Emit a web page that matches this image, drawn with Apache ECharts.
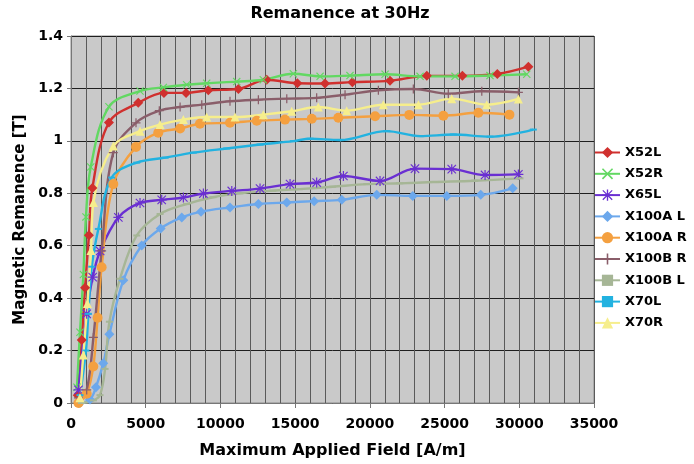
<!DOCTYPE html>
<html><head><meta charset="utf-8">
<script src="https://cdn.jsdelivr.net/npm/echarts@6/dist/echarts.min.js"></script>
<style>html,body{margin:0;padding:0;background:#fff}#c{width:694px;height:464px}</style>
</head><body><div id="c"></div>
<script>
// Tick labels
const xTicks = [0, 5000, 10000, 15000, 20000, 25000, 30000, 35000];
const yTicks = [0, 0.2, 0.4, 0.6, 0.8, 1, 1.2, 1.4];
const seriesNames = ['X52L', 'X52R', 'X65L', 'X100A L', 'X100A R', 'X100B R', 'X100B L', 'X70L', 'X70R'];

// Applied field [A/m] and remanence [T] for each sample
const x52L_H = [450, 720, 940, 1200, 1430, 2540, 4500, 6220, 7700, 9190, 11200, 13100, 15150, 17000, 18830, 21350, 23810, 26190, 28530, 30610];
const x52L_B = [0.03, 0.24, 0.44, 0.64, 0.82, 1.07, 1.145, 1.183, 1.183, 1.193, 1.198, 1.233, 1.22, 1.219, 1.224, 1.229, 1.248, 1.248, 1.255, 1.283];

const x52R_H = [400, 600, 830, 1000, 1320, 2540, 4620, 6180, 7740, 9080, 11090, 12870, 14880, 16670, 18670, 21020, 23360, 25700, 28040, 30500];
const x52R_B = [0.06, 0.27, 0.49, 0.71, 0.90, 1.13, 1.19, 1.204, 1.214, 1.22, 1.226, 1.233, 1.256, 1.246, 1.249, 1.254, 1.246, 1.246, 1.249, 1.254];

const x65L_H = [500, 1050, 1450, 1950, 3170, 4620, 6070, 7520, 8860, 10760, 12650, 14660, 16440, 18230, 20680, 23020, 25480, 27710, 29940];
const x65L_B = [0.05, 0.34, 0.48, 0.58, 0.708, 0.763, 0.775, 0.784, 0.799, 0.809, 0.818, 0.835, 0.841, 0.866, 0.847, 0.894, 0.892, 0.870, 0.872];

const x100AL_H = [600, 1270, 1670, 2160, 2570, 3500, 4730, 6000, 7410, 8700, 10640, 12540, 14440, 16270, 18120, 20460, 22870, 25150, 27420, 29560];
const x100AL_B = [0.0, 0.013, 0.06, 0.152, 0.262, 0.468, 0.601, 0.666, 0.708, 0.73, 0.746, 0.759, 0.765, 0.77, 0.775, 0.794, 0.79, 0.79, 0.794, 0.819];

const x100AR_H = [500, 1050, 1490, 1780, 2050, 2830, 4350, 5840, 7300, 8630, 10640, 12430, 14320, 16110, 17890, 20350, 22640, 24920, 27260, 29340];
const x100AR_B = [0.0, 0.035, 0.139, 0.325, 0.518, 0.835, 0.977, 1.031, 1.047, 1.065, 1.069, 1.077, 1.081, 1.084, 1.088, 1.094, 1.099, 1.096, 1.107, 1.10];

const x100BR_H = [500, 1050, 1500, 2050, 2830, 4350, 5910, 7300, 8750, 10640, 12540, 14440, 16440, 18340, 20570, 22910, 25250, 27490, 29940];
const x100BR_B = [0.02, 0.05, 0.25, 0.58, 0.955, 1.069, 1.115, 1.129, 1.138, 1.151, 1.157, 1.161, 1.164, 1.176, 1.193, 1.198, 1.18, 1.189, 1.185];

const x100BL_H = [700, 1500, 1940, 2280, 2570, 3280, 4400, 5960, 7740, 9500, 11300, 13500, 15300, 17500, 19800, 22000, 24250, 27000, 30050];
const x100BL_B = [0.0, 0.01, 0.03, 0.13, 0.31, 0.474, 0.639, 0.721, 0.759, 0.785, 0.80, 0.81, 0.816, 0.825, 0.835, 0.838, 0.843, 0.848, 0.857];

const x70L_H = [600, 1000, 1160, 1390, 1830, 2720, 4400, 6300, 8180, 10420, 12650, 14880, 16000, 18000, 21130, 23360, 25590, 28040, 30940];
const x70L_B = [0.03, 0.2, 0.34, 0.52, 0.664, 0.86, 0.917, 0.936, 0.955, 0.971, 0.986, 0.999, 1.008, 1.003, 1.037, 1.018, 1.024, 1.016, 1.043];

const x70R_H = [600, 820, 1100, 1340, 1500, 2830, 4620, 5960, 7520, 9080, 10980, 12870, 14770, 16550, 18450, 20900, 23250, 25480, 27820, 29940];
const x70R_B = [0.02, 0.183, 0.38, 0.582, 0.765, 0.98, 1.037, 1.062, 1.081, 1.091, 1.091, 1.10, 1.113, 1.129, 1.115, 1.138, 1.138, 1.161, 1.138, 1.16];

const FONT = 'DejaVu Sans';
const pair = (h, b) => h.map((v, i) => [v, b[i]]);

const crossPath = 'path://M1,0L5,4L9,0L10,1L6,5L10,9L9,10L5,6L1,10L0,9L4,5L0,1Z';
const plusPath = 'path://M4.3,0H5.7V4.3H10V5.7H5.7V10H4.3V5.7H0V4.3H4.3Z';
const starPath = 'path://M4.4,0H5.6V10H4.4Z M0,4.4H10V5.6H0Z M1.2,0.4L5,4.2L8.8,0.4L9.6,1.2L5.8,5L9.6,8.8L8.8,9.6L5,5.8L1.2,9.6L0.4,8.8L4.2,5L0.4,1.2Z';

const defs = [
  {name: seriesNames[0], h: x52L_H, b: x52L_B, color: '#d0302e', symbol: 'diamond', size: 10},
  {name: seriesNames[1], h: x52R_H, b: x52R_B, color: '#62d862', symbol: crossPath, size: 8},
  {name: seriesNames[2], h: x65L_H, b: x65L_B, color: '#6a2fd2', symbol: starPath, size: 10},
  {name: seriesNames[3], h: x100AL_H, b: x100AL_B, color: '#6ca8ec', symbol: 'diamond', size: 10},
  {name: seriesNames[4], h: x100AR_H, b: x100AR_B, color: '#f4a040', symbol: 'circle', size: 10},
  {name: seriesNames[5], h: x100BR_H, b: x100BR_B, color: '#8a5e6a', symbol: plusPath, size: 9},
  {name: seriesNames[6], h: x100BL_H, b: x100BL_B, color: '#a6b696', symbol: 'rect', size: [7, 2]},
  {name: seriesNames[7], h: x70L_H, b: x70L_B, color: '#22b2e0', symbol: 'rect', size: [7, 2]},
  {name: seriesNames[8], h: x70R_H, b: x70R_B, color: '#f6ee8c', symbol: 'triangle', size: 9}
];

const chart = echarts.init(document.getElementById('c'), null, {renderer: 'canvas'});
chart.setOption({
  animation: false,
  backgroundColor: '#ffffff',
  title: {
    text: 'Remanence at 30Hz',
    left: 340, top: 6, textAlign: 'center', padding: 0,
    textStyle: {fontFamily: FONT, fontWeight: 'bold', fontSize: 16, color: '#000'}
  },
  legend: {
    orient: 'vertical', left: 594, top: 146, padding: 0,
    itemWidth: 25, itemHeight: 14, itemGap: 8.3,
    textStyle: {fontFamily: FONT, fontWeight: 'bold', fontSize: 13, color: '#000'},
    data: seriesNames
  },
  grid: {
    left: 71, right: 100, top: 36, bottom: 59,
    show: true, backgroundColor: '#c9c9c9', borderColor: '#8a8a8a', borderWidth: 1
  },
  xAxis: {
    type: 'value', min: xTicks[0], max: xTicks[xTicks.length - 1], interval: 5000,
    name: 'Maximum Applied Field [A/m]', nameLocation: 'middle', nameGap: 40,
    nameTextStyle: {fontFamily: FONT, fontWeight: 'bold', fontSize: 16, color: '#000'},
    axisLine: {show: true, lineStyle: {color: '#777', width: 1}},
    axisTick: {show: true, length: 5, lineStyle: {color: '#777'}},
    axisLabel: {fontFamily: FONT, fontWeight: 'bold', fontSize: 14, color: '#000', margin: 14,
      formatter: v => String(v)},
    splitLine: {show: true, lineStyle: {color: '#5a5a5a', width: 1}},
    minorTick: {show: false, splitNumber: 5},
    minorSplitLine: {show: true, lineStyle: {color: '#5a5a5a', width: 1}}
  },
  yAxis: {
    type: 'value', min: yTicks[0], max: yTicks[yTicks.length - 1], interval: 0.2,
    name: 'Magnetic Remanence [T]', nameLocation: 'middle', nameGap: 38,
    nameTextStyle: {fontFamily: FONT, fontWeight: 'bold', fontSize: 15, color: '#000'},
    axisLine: {show: true, lineStyle: {color: '#777', width: 1}},
    axisTick: {show: true, length: 4, lineStyle: {color: '#777'}},
    axisLabel: {fontFamily: FONT, fontWeight: 'bold', fontSize: 14, color: '#000', margin: 8},
    splitLine: {show: true, lineStyle: {color: '#1e1e1e', width: 1}}
  },
  series: defs.map(d => ({
    name: d.name, type: 'line', smooth: 0.35,
    data: pair(d.h, d.b),
    symbol: d.symbol, symbolSize: d.size, showSymbol: true,
    lineStyle: {color: d.color, width: 2.4},
    itemStyle: {color: d.color, borderWidth: 0},
    emphasis: {disabled: true}
  }))
});
</script></body></html>
